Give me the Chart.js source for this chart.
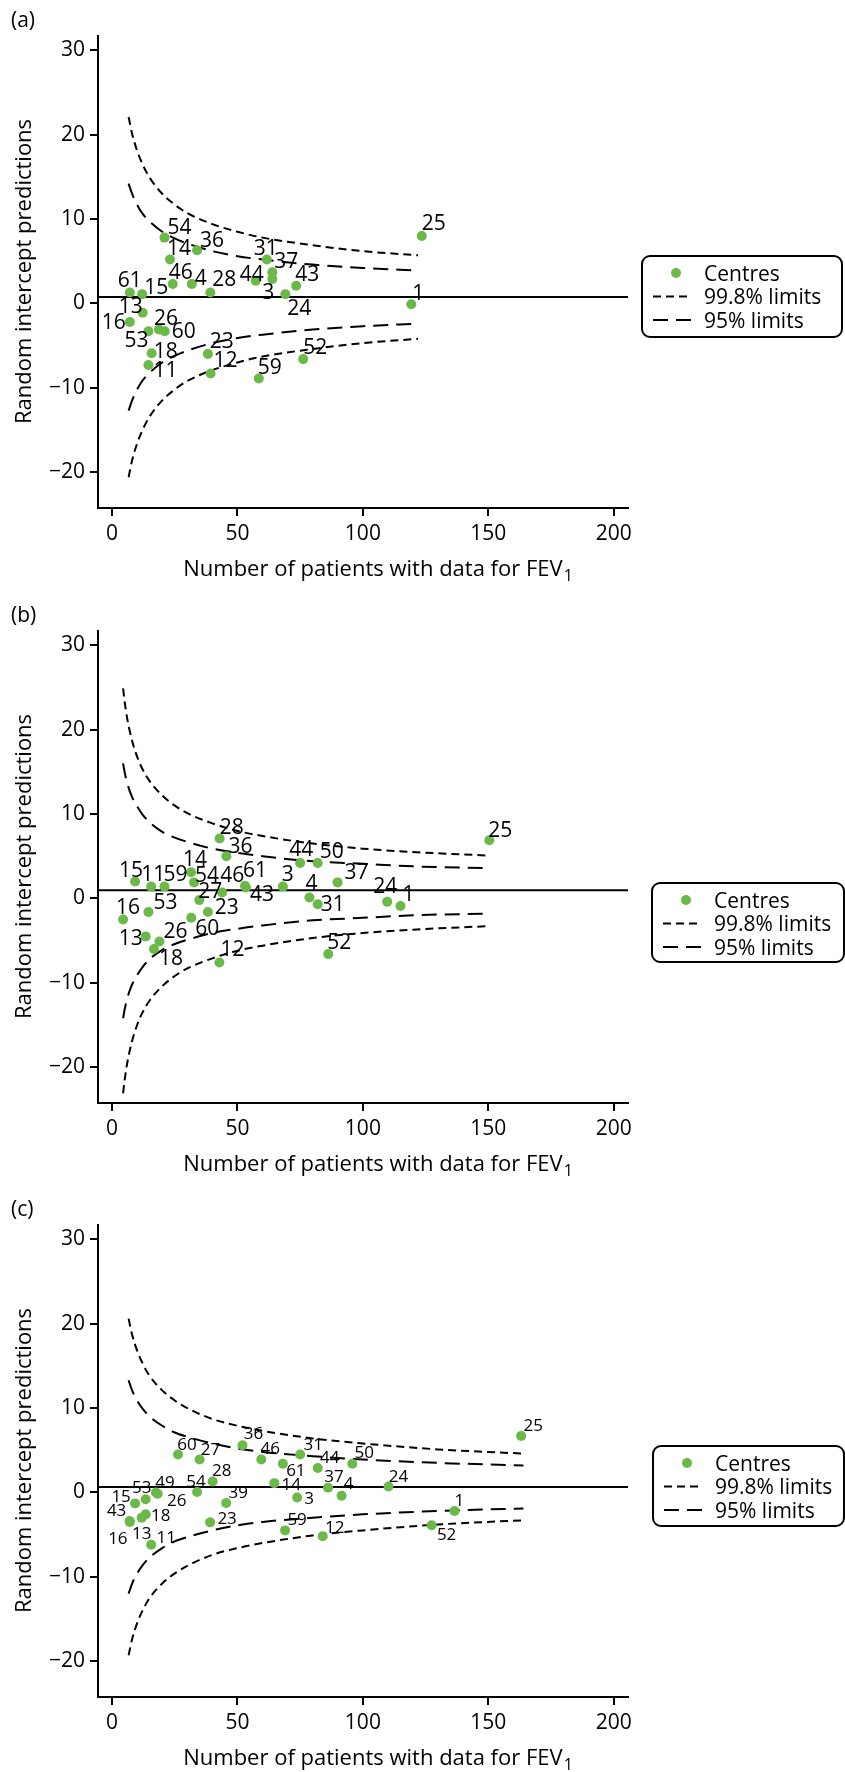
<!DOCTYPE html>
<html>
<head>
<meta charset="utf-8">
<script src="https://cdn.jsdelivr.net/npm/chart.js@4.4.1/dist/chart.umd.min.js"></script>
<style>
  html, body { margin: 0; padding: 0; background: #fff; }
  body { width: 845px; height: 1772px; position: relative; overflow: hidden; }
  .panel { position: absolute; left: 0; width: 845px; height: 583px; }
</style>
</head>
<body>
<div class="panel" style="top:0px"><canvas id="chartA" width="845" height="583"></canvas></div>
<div class="panel" style="top:595px"><canvas id="chartB" width="845" height="583"></canvas></div>
<div class="panel" style="top:1189px"><canvas id="chartC" width="845" height="583"></canvas></div>
<script>
const X_MIN = -5.6, X_MAX = 205.7;
const Y_MIN = -24.25, Y_MAX = 31.7;
const xTicks = [0, 50, 100, 150, 200];
const yTicks = [-20, -10, 0, 10, 20, 30];

// (a)
const centresA = ['54','14','36','31','37','3','44','43','24','25','61','15','46','4','28','1','13','16','26','60','53','18','11','23','12','59','52'];
const patientsA = [20.9,23.1,33.9,61.7,63.9,63.9,57.3,73.4,69.1,123.5,7.1,12.0,24.2,31.8,39.2,119.3,12.2,7.1,18.7,21.0,14.5,15.8,14.5,38.2,39.3,58.5,76.2];
const interceptA = [7.8,5.2,6.3,5.2,3.7,2.9,2.7,2.1,1.1,8.0,1.3,1.1,2.3,2.3,1.3,-0.1,-1.1,-2.2,-3.1,-3.3,-3.3,-5.9,-7.3,-6.0,-8.3,-8.9,-6.6];
const meanA = 0.75;
const limitNA = [6.6,8,10,12,15,20,25,30,40,50,60,80,100,122];
const upper998A = [22.1,20.1,18.1,16.6,14.9,13.0,11.7,10.7,9.4,8.5,7.8,6.9,6.2,5.7];
const lower998A = [-20.6,-18.6,-16.6,-15.1,-13.4,-11.5,-10.2,-9.2,-7.9,-7.0,-6.3,-5.4,-4.7,-4.2];
const upper95A = [14.2,13.0,11.7,10.7,9.7,8.5,7.7,7.1,6.2,5.6,5.2,4.6,4.2,3.9];
const lower95A = [-12.7,-11.5,-10.2,-9.2,-8.2,-7.0,-6.2,-5.6,-4.7,-4.1,-3.7,-3.1,-2.7,-2.4];

// (b)
const centresB = ['15','11','59','14','54','46','61','43','3','4','31','16','53','27','23','60','13','26','18','12','52','28','36','44','50','37','24','1','25'];
const patientsB = [9.2,15.6,20.9,31.5,32.7,43.9,53.0,53.4,68.1,78.7,82.0,4.4,14.5,34.8,38.2,31.6,13.4,18.9,16.7,42.8,86.2,42.9,45.6,75.0,82.0,89.9,109.7,115.0,150.4];
const interceptB = [2.0,1.4,1.4,3.1,1.9,0.7,1.5,1.3,1.4,0.1,-0.7,-2.5,-1.6,-0.2,-1.6,-2.3,-4.5,-5.1,-6.0,-7.6,-6.6,7.1,5.0,4.2,4.2,1.9,-0.4,-0.9,6.9];
const meanB = 0.98;
const limitNB = [4.4,5,6,8,10,12,15,20,25,30,40,50,60,80,100,120,149];
const upper998B = [24.9,23.4,21.4,18.7,16.8,15.4,13.9,12.2,11.0,10.1,8.9,8.0,7.4,6.5,5.9,5.5,5.1];
const lower998B = [-23.1,-21.6,-19.6,-16.9,-15.0,-13.6,-12.1,-10.4,-9.2,-8.3,-7.1,-6.2,-5.6,-4.7,-4.1,-3.7,-3.3];
const upper95B = [16.0,15.0,13.7,12.0,10.9,10.0,9.0,7.9,7.2,6.7,5.9,5.4,5.0,4.4,4.1,3.8,3.6];
const lower95B = [-14.2,-13.2,-11.9,-10.2,-9.1,-8.2,-7.2,-6.1,-5.4,-4.9,-4.1,-3.6,-3.2,-2.6,-2.3,-2.0,-1.8];

// (c)
const centresC = ['15','53','49','26','54','28','39','14','3','43','16','13','18','11','23','59','12','25','36','60','27','46','31','61','44','50','37','4','24','1','52'];
const patientsC = [9.2,13.4,17.5,18.2,33.9,40.1,45.5,64.7,73.8,7.0,7.1,11.8,13.4,15.6,39.1,69.0,84.0,163.1,52.0,26.3,34.9,59.5,75.0,68.1,82.0,95.8,86.1,91.5,110.2,136.5,127.4];
const interceptC = [-1.3,-0.8,0.0,-0.15,0.05,1.3,-1.25,1.1,-0.6,-3.4,-3.5,-3.0,-2.6,-6.2,-3.55,-4.5,-5.2,6.7,5.6,4.5,3.9,3.9,4.5,3.4,2.9,3.4,0.55,-0.4,0.7,-2.2,-3.9];
const meanC = 0.65;
const limitNC = [6.6,8,10,12,15,20,25,30,40,50,60,80,100,130,164];
const upper998C = [20.6,18.7,16.8,15.4,13.8,12.1,10.9,10.0,8.7,7.9,7.3,6.4,5.8,5.1,4.6];
const lower998C = [-19.3,-17.4,-15.5,-14.1,-12.5,-10.8,-9.6,-8.7,-7.4,-6.6,-6.0,-5.1,-4.5,-3.8,-3.3];
const upper95C = [13.3,12.1,10.9,10.0,9.0,7.9,7.1,6.6,5.8,5.2,4.8,4.3,3.9,3.5,3.2];
const lower95C = [-12.0,-10.8,-9.6,-8.7,-7.7,-6.6,-5.8,-5.3,-4.5,-3.9,-3.5,-3.0,-2.6,-2.2,-1.9];

// label placement (pixel offset of each label centre from its marker)
const labelPosA = [[15,-11],[9,-12],[15,-11],[-1,-12],[14,-12],[-4,12],[-4,-7],[11,-12],[14,13],[12,-13],[0,-13],[14,-8],[8,-13],[9,-7],[14,-14],[7,-12],[-12,-7],[-16,-1],[7,-12],[19,-1],[-12,8],[14,-3],[17,4],[14,-14],[15,-14],[11,-12],[12,-13]];
const labelPosB = [[-4,-12],[2,-13],[11,-13],[4,-14],[13,-8],[10,-18],[10,-16],[16,6],[5,-13],[2,-15],[15,-1],[5,-13],[17,-10],[11,-10],[19,-5],[16,10],[-15,1],[16,-11],[17,8],[13,-14],[11,-13],[12,-12],[14,-11],[1,-15],[14,-13],[19,-11],[-2,-16],[8,-13],[11,-11]];
const labelPosC = [[-14,-8],[-4,-12],[9,-11],[19,6],[-1,-11],[9,-12],[12,-11],[17,1],[12,0],[-13,-11],[-12,16],[0,15],[15,1],[15,-8],[17,-4],[12,-12],[12,-9],[12,-11],[11,-12],[9,-11],[11,-11],[9,-12],[13,-11],[13,6],[12,-11],[12,-12],[6,-12],[7,-13],[10,-11],[5,-11],[15,9]];

const GREEN = '#6bb948';
const FONT = '"Open Sans", "Noto Sans", sans-serif';
Chart.defaults.font.family = FONT;
Chart.defaults.color = '#000';

const pts = (xs, ys) => xs.map((x, i) => ({x: x, y: ys[i]}));

const centreLabels = {
  id: 'centreLabels',
  afterDatasetsDraw(chart, args, o) {
    const meta = chart.getDatasetMeta(0);
    const ctx = chart.ctx;
    ctx.save();
    ctx.font = o.size + 'px ' + FONT;
    ctx.fillStyle = '#000';
    ctx.textAlign = 'center';
    ctx.textBaseline = 'alphabetic';
    meta.data.forEach((el, i) => {
      const off = o.offsets[i];
      ctx.fillText(o.names[i], el.x + off[0], el.y + off[1] + o.size * 0.36);
    });
    ctx.restore();
  }
};

const panelFrame = {
  id: 'panelFrame',
  afterDraw(chart, args, o) {
    const ctx = chart.ctx;
    ctx.save();
    ctx.fillStyle = '#000';
    ctx.strokeStyle = '#000';
    ctx.textBaseline = 'alphabetic';

    ctx.font = '21px ' + FONT;
    ctx.textAlign = 'left';
    ctx.fillText(o.tag, 11, 27);

    ctx.save();
    ctx.translate(31, 271.5);
    ctx.rotate(-Math.PI / 2);
    ctx.font = '22px ' + FONT;
    ctx.textAlign = 'center';
    ctx.fillText('Random intercept predictions', 0, 0);
    ctx.restore();

    const main = 'Number of patients with data for FEV';
    ctx.font = '22px ' + FONT;
    const w1 = ctx.measureText(main).width;
    ctx.font = '16px ' + FONT;
    const w2 = ctx.measureText('1').width;
    const x0 = 378 - (w1 + w2 + 1) / 2;
    ctx.font = '22px ' + FONT;
    ctx.fillText(main, x0, 576);
    ctx.font = '16px ' + FONT;
    ctx.fillText('1', x0 + w1 + 1, 581);

    // legend
    const b = o.box;
    const r = 8;
    ctx.lineWidth = 2;
    ctx.beginPath();
    ctx.moveTo(b.x + r, b.y);
    ctx.lineTo(b.x + b.w - r, b.y);
    ctx.arcTo(b.x + b.w, b.y, b.x + b.w, b.y + r, r);
    ctx.lineTo(b.x + b.w, b.y + b.h - r);
    ctx.arcTo(b.x + b.w, b.y + b.h, b.x + b.w - r, b.y + b.h, r);
    ctx.lineTo(b.x + r, b.y + b.h);
    ctx.arcTo(b.x, b.y + b.h, b.x, b.y + b.h - r, r);
    ctx.lineTo(b.x, b.y + r);
    ctx.arcTo(b.x, b.y, b.x + r, b.y, r);
    ctx.closePath();
    ctx.stroke();

    const rows = [b.y + 17, b.y + 40.5, b.y + 64];
    ctx.fillStyle = GREEN;
    ctx.beginPath();
    ctx.arc(b.x + 34, rows[0], 5, 0, Math.PI * 2);
    ctx.fill();

    ctx.setLineDash([8, 5]);
    ctx.beginPath();
    ctx.moveTo(b.x + 11, rows[1]);
    ctx.lineTo(b.x + 50, rows[1]);
    ctx.stroke();
    ctx.setLineDash([15, 8]);
    ctx.beginPath();
    ctx.moveTo(b.x + 11, rows[2]);
    ctx.lineTo(b.x + 49, rows[2]);
    ctx.stroke();
    ctx.setLineDash([]);

    ctx.fillStyle = '#000';
    ctx.font = '21px ' + FONT;
    ctx.textAlign = 'left';
    const labels = ['Centres', '99.8% limits', '95% limits'];
    labels.forEach((t, i) => ctx.fillText(t, b.x + 62, rows[i] + 7.5));
    ctx.restore();
  }
};

function limitLine(xs, ys, dash) {
  return {
    data: pts(xs, ys),
    showLine: true,
    borderColor: '#000',
    borderWidth: 2,
    borderDash: dash,
    pointRadius: 0,
    cubicInterpolationMode: 'monotone'
  };
}

function makePanel(id, p) {
  const config = {
    type: 'scatter',
    data: {
      datasets: [
        {
          label: 'Centres',
          data: pts(p.patients, p.intercept),
          backgroundColor: GREEN,
          borderWidth: 0,
          pointRadius: 5,
          pointHoverRadius: 5
        },
        {
          label: 'Mean',
          data: [{x: X_MIN, y: p.mean}, {x: X_MAX, y: p.mean}],
          showLine: true,
          borderColor: '#000',
          borderWidth: 2,
          pointRadius: 0
        },
        limitLine(p.limitN, p.upper998, [8, 5]),
        limitLine(p.limitN, p.lower998, [8, 5]),
        limitLine(p.limitN, p.upper95, [15, 8]),
        limitLine(p.limitN, p.lower95, [15, 8])
      ]
    },
    options: {
      responsive: false,
      animation: false,
      layout: {
        padding: {top: 36, left: 0, right: 217, bottom: 0}
      },
      plugins: {
        legend: {display: false},
        tooltip: {enabled: false},
        centreLabels: {names: p.names, offsets: p.offsets, size: p.labelSize},
        panelFrame: {tag: p.tag, box: p.box}
      },
      scales: {
        x: {
          type: 'linear',
          min: X_MIN,
          max: X_MAX,
          afterBuildTicks: s => { s.ticks = xTicks.map(v => ({value: v})); },
          afterFit: s => { s.height = 75; },
          border: {display: true, color: '#000', width: 2},
          grid: {display: true, drawOnChartArea: false, drawTicks: true, tickLength: 8, color: '#000', lineWidth: 2},
          ticks: {font: {size: 21}, color: '#000', padding: 5, maxRotation: 0}
        },
        y: {
          type: 'linear',
          min: Y_MIN,
          max: Y_MAX,
          afterBuildTicks: s => { s.ticks = yTicks.map(v => ({value: v})); },
          afterFit: s => { s.width = 98; },
          border: {display: true, color: '#000', width: 2},
          grid: {display: true, drawOnChartArea: false, drawTicks: true, tickLength: 8, color: '#000', lineWidth: 2},
          ticks: {
            font: {size: 21},
            color: '#000',
            padding: 5,
            callback: v => v < 0 ? '\u2212' + Math.abs(v) : String(v)
          }
        }
      }
    },
    plugins: [centreLabels, panelFrame]
  };
  return new Chart(document.getElementById(id), config);
}

const chartA = makePanel('chartA', {
  tag: '(a)', names: centresA, patients: patientsA, intercept: interceptA, mean: meanA,
  limitN: limitNA, upper998: upper998A, lower998: lower998A, upper95: upper95A, lower95: lower95A,
  offsets: labelPosA, labelSize: 21, box: {x: 642, y: 256, w: 200, h: 81}
});

const chartB = makePanel('chartB', {
  tag: '(b)', names: centresB, patients: patientsB, intercept: interceptB, mean: meanB,
  limitN: limitNB, upper998: upper998B, lower998: lower998B, upper95: upper95B, lower95: lower95B,
  offsets: labelPosB, labelSize: 21, box: {x: 652, y: 288, w: 192, h: 79}
});

const chartC = makePanel('chartC', {
  tag: '(c)', names: centresC, patients: patientsC, intercept: interceptC, mean: meanC,
  limitN: limitNC, upper998: upper998C, lower998: lower998C, upper95: upper95C, lower95: lower95C,
  offsets: labelPosC, labelSize: 17, box: {x: 653, y: 257, w: 191, h: 80}
});
</script>
</body>
</html>
